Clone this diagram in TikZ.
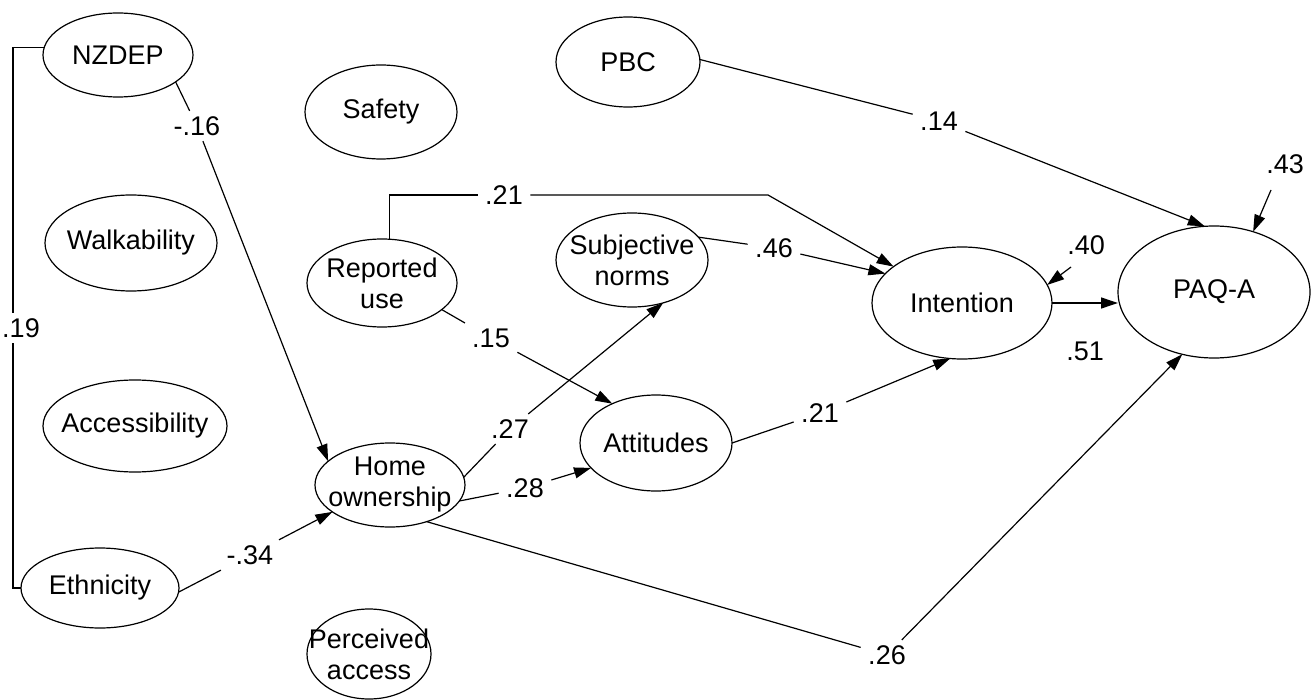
\documentclass[tikz,border=0pt]{standalone}
\usepackage{fontspec}
\setmainfont{Liberation Sans}
\usetikzlibrary{shapes.geometric,arrows.meta}
\begin{document}
\begin{tikzpicture}[x=1pt,y=-1pt,
  line width=1.2pt,
  var/.style={ellipse, draw, inner sep=0pt, outer sep=0pt},
  txt/.style={font=\fontsize{27}{31}\selectfont, align=center, inner sep=0pt},
  lab/.style={font=\fontsize{27}{31}\selectfont, inner xsep=7pt, inner ysep=5pt},
  arr/.style={-{Triangle[length=17pt,width=11pt]}}]
\useasboundingbox (0,0) rectangle (1313,700);

% variables
\node[var, minimum width=150pt, minimum height=84pt, label={[txt]center:NZDEP}] (NZ) at (118,55) {};
\node[var, minimum width=152pt, minimum height=94pt, label={[txt]center:Safety}] (SAF) at (381,112) {};
\node[var, minimum width=144pt, minimum height=90pt, label={[txt]center:PBC}] (PBC) at (628,62) {};
\node[var, minimum width=172pt, minimum height=96pt, label={[txt]center:Walkability}] (WAL) at (131,243) {};
\node[var, minimum width=184pt, minimum height=92pt, label={[txt]center:Accessibility}] (ACC) at (135,426) {};
\node[var, minimum width=158pt, minimum height=80pt, label={[txt]center:Ethnicity}] (ETH) at (100,588) {};
\node[var, minimum width=150pt, minimum height=88pt, label={[txt]center:{Reported\\use}}] (RU) at (382,283) {};
\node[var, minimum width=152pt, minimum height=94pt, label={[txt]center:{Subjective\\norms}}] (SN) at (632,260) {};
\node[var, minimum width=150pt, minimum height=84pt, label={[txt]center:{Home\\ownership}}] (HO) at (390,485) {};
\node[var, minimum width=152pt, minimum height=96pt, label={[txt]center:Attitudes}] (ATT) at (656,443) {};
\node[var, minimum width=180pt, minimum height=112pt, label={[txt]center:Intention}] (INT) at (962,303) {};
\node[var, minimum width=192pt, minimum height=132pt, label={[txt]center:PAQ-A}] (PAQ) at (1214,292) {};
\node[var, minimum width=124pt, minimum height=90pt, label={[txt]center:{Perceived\\access}}] (PA) at (369,654) {};

% path labels
\node[lab] (l16) at (197,126) {-.16};
\node[lab] (l34) at (250,555) {-.34};
\node[lab] (l27) at (510,429) {.27};
\node[lab] (l28) at (525,488) {.28};
\node[lab] (l15) at (491,338) {.15};
\node[lab] (l21a) at (504,195) {.21};
\node[lab] (l46) at (774,248) {.46};
\node[lab] (l21b) at (820,413) {.21};
\node[lab] (l14) at (939,121) {.14};
\node[lab] (l51) at (1085,351) {.51};
\node[lab] (l40) at (1086,245) {.40};
\node[lab] (l43) at (1285,164) {.43};
\node[lab] (l26) at (887,655) {.26};

\coordinate (c19) at (13,588);
\coordinate (c21) at (768,195);
\coordinate (e40) at (1071,267);
\coordinate (e43) at (1271,190);

% connectors
\draw (NZ.174) -| (c19) -- (ETH.west);
\node[lab, fill=white, inner xsep=2pt] (l19) at (21,328) {.19};

\draw[arr] (NZ.-25) -- (l16) -- (HO.159);
\draw[arr] (ETH.-3) -- (l34) -- (HO.-155);
\draw[arr] (HO.6) -- (l27) -- (SN.-54);
\draw[arr] (HO.-13) -- (l28) -- (ATT.-159);
\draw[arr] (RU.-24) -- (l15) -- (ATT.138);
\draw[arr] (ATT.0) -- (l21b) -- (INT.-102);
\draw[arr] (SN.19) -- (l46) -- (INT.159);
\draw (RU.80) |- (l21a.west);
\draw[arr] (l21a.east) -- (c21) -- (INT.152);
\draw[arr] (PBC.2) -- (l14) -- (PAQ.98);
\draw[arr] (INT.east) -- (INT.east -| PAQ.west);
\draw[arr] (HO.-45) -- (l26) -- (PAQ.-117);
\draw[arr] (e40) -- (INT.12);
\draw[arr] (e43) -- (PAQ.57);
\end{tikzpicture}
\end{document}
